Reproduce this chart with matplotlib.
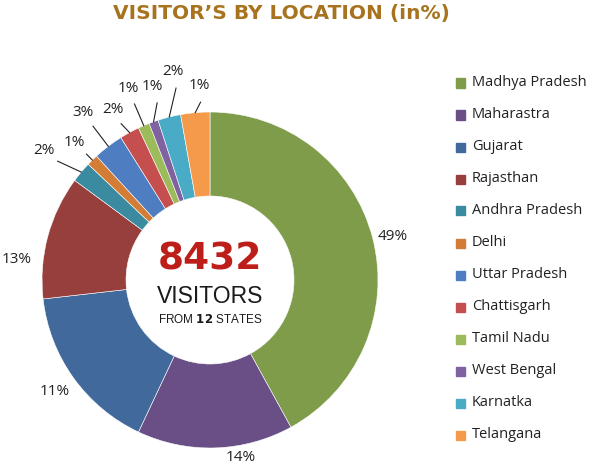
import numpy as np
import matplotlib
matplotlib.use("Agg")
import matplotlib.pyplot as plt
from matplotlib.patches import Rectangle

states = ["Madhya Pradesh", "Maharastra", "Gujarat", "Rajasthan", "Andhra Pradesh",
          "Delhi", "Uttar Pradesh", "Chattisgarh", "Tamil Nadu", "West Bengal",
          "Karnatka", "Telangana"]
# slice sizes as drawn (share of the ring)
shares = [42.0, 15.0, 16.2, 11.9, 2.0, 1.1, 2.9, 1.9, 1.1, 0.9, 2.2, 2.8]
# data labels as printed on the chart
pct_labels = ["49%", "14%", "11%", "13%", "2%", "1%", "3%", "2%", "1%", "1%", "2%", "1%"]
colors = ["#7F9C4A", "#6A4F87", "#41699B", "#973F3D", "#3A8B9F", "#D27C35",
          "#4E7EC1", "#C54F4E", "#9CBB5A", "#7F63A1", "#4AABC6", "#F59A4B"]

total_visitors = 8432
n_states = 12

# label placement: radius (in ring radii) and small angle nudge (deg, clockwise)
label_r = [1.12, 1.07, 1.14, 1.16, 1.25, 1.15, 1.25, 1.17, 1.24, 1.20, 1.26, 1.16]
label_da = [1, -8, 0, -9, -2, 0, 0, -1, 0, 3, 4, 2]

fig = plt.figure(figsize=(5.94, 4.66), dpi=100)
ax = fig.add_axes([0, -24 / 466, 420 / 594, 420 / 466])
ax.set_xlim(-1.25, 1.25)
ax.set_ylim(-1.25, 1.25)
ax.set_aspect("equal")
ax.axis("off")

wedges, _ = ax.pie(shares, colors=colors, startangle=90, counterclock=False,
                   radius=1.0, wedgeprops=dict(width=0.5, edgecolor="white", linewidth=0.4))

lab_font = "Open Sans"
cum = np.cumsum([0] + shares[:-1])
for i, w in enumerate(wedges):
    mid = (cum[i] + shares[i] / 2) / sum(shares) * 360  # clockwise from 12 o'clock
    ang = np.deg2rad(90 - mid - label_da[i])
    tx, ty = label_r[i] * np.cos(ang), label_r[i] * np.sin(ang)
    if shares[i] < 5:
        m = np.deg2rad(90 - mid)
        x0, y0 = np.cos(m), np.sin(m)
        x1, y1 = (label_r[i] - 0.1) * np.cos(ang), (label_r[i] - 0.1) * np.sin(ang)
        ax.plot([x0, x1], [y0, y1], color="#222222", lw=0.8, clip_on=False)
    ax.text(tx, ty, pct_labels[i], ha="center", va="center", fontsize=11,
            family=lab_font, color="#222222", clip_on=False)

# centre text
ax.text(0, 0.12, f"{total_visitors}", ha="center", va="center", fontsize=27,
        fontweight="bold", color="#BE1E1A", family="DejaVu Sans")
ax.text(0, -0.1, "VISITORS", ha="center", va="center", fontsize=16.5,
        color="#1a1a1a", family="Liberation Sans")
ax.text(0, -0.235, "FROM $\\bf{" + str(n_states) + "}$ STATES", ha="center", va="center",
        fontsize=8.5, color="#1a1a1a", family="Liberation Sans")

fig.text(281 / 594, 1 - 14 / 466, "VISITOR’S BY LOCATION (in%)", ha="center", va="center",
         fontsize=14.5, fontweight="bold", color="#A8731E", family="DejaVu Sans")

# legend
for i, (name, c) in enumerate(zip(states, colors)):
    y = 83 + i * 32
    fig.patches.append(Rectangle((456 / 594, 1 - (y + 4.5) / 466), 9 / 594, 9 / 466,
                                 transform=fig.transFigure, color=c, figure=fig))
    fig.text(472 / 594, 1 - y / 466, name, ha="left", va="center", fontsize=10.5,
             family=lab_font, color="#222222")

fig.savefig("out.png", dpi=100)
